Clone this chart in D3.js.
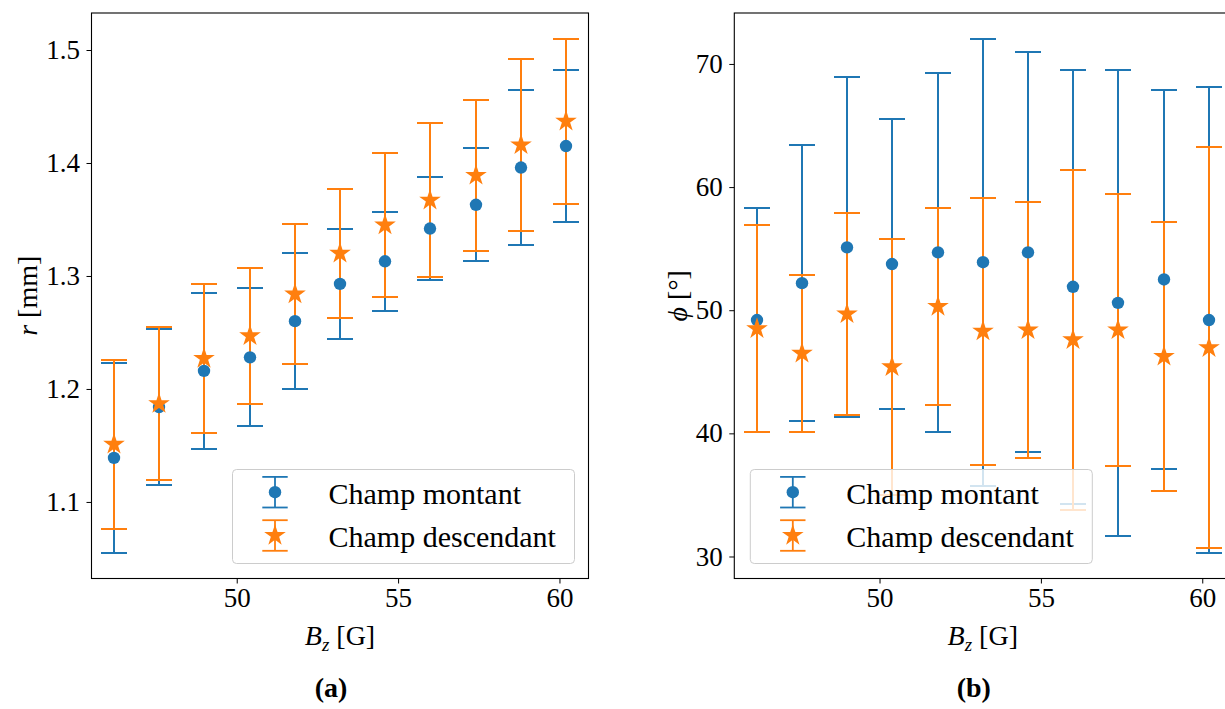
<!DOCTYPE html>
<html>
<head>
<meta charset="utf-8">
<script src="https://cdn.jsdelivr.net/npm/d3@7"></script>
<style>
body { margin: 0; background: #fff; overflow: hidden; }
text { font-family: "Liberation Serif", "DejaVu Serif", serif; fill: #000; }
</style>
</head>
<body>
<svg width="1225" height="709"></svg>
<script>
// values
var bz = [46.2, 47.6, 49.0, 50.4, 51.8, 53.2, 54.6, 56.0, 57.4, 58.8, 60.2];

var rUp = [1.139, 1.184, 1.216, 1.228, 1.260, 1.293, 1.313, 1.342, 1.363, 1.396, 1.415];
var rUpErr = [0.084, 0.069, 0.069, 0.061, 0.060, 0.049, 0.044, 0.046, 0.050, 0.069, 0.067];
var rDown = [1.151, 1.187, 1.227, 1.247, 1.284, 1.320, 1.345, 1.367, 1.389, 1.416, 1.437];
var rDownErr = [0.075, 0.068, 0.066, 0.060, 0.062, 0.057, 0.064, 0.068, 0.067, 0.076, 0.073];

var phiUp = [49.2, 52.2, 55.1, 53.75, 54.7, 53.9, 54.7, 51.9, 50.6, 52.5, 49.2];
var phiUpErr = [9.1, 11.2, 13.8, 11.75, 14.55, 18.15, 16.25, 17.6, 18.9, 15.4, 18.9];
var phiDown = [48.5, 46.5, 49.7, 45.4, 50.3, 48.3, 48.4, 47.6, 48.4, 46.25, 46.95];
var phiDownErr = [8.4, 6.4, 8.2, 10.4, 8.0, 10.85, 10.4, 13.8, 11.05, 10.95, 16.3];

var xTicks = [50, 55, 60];
var rTicks = [1.1, 1.2, 1.3, 1.4, 1.5];
var phiTicks = [30, 40, 50, 60, 70];
var names = ["Champ montant", "Champ descendant"];
var blue = "#1f77b4", orange = "#ff7f0e";

var svg = d3.select("svg");
var top_ = 13, bottom = 578.5, axW = 497;

function padded(lo, hi) {
	var p = (hi - lo) * 0.05;
	return [lo - p, hi + p];
}

function panel(o) {
	var g = svg.append("g");
	var x = d3.scaleLinear()
		.domain(padded(d3.min(bz), d3.max(bz)))
		.range([o.left, o.left + axW]);
	var lows = o.up.map(function(d, i){ return d - o.upErr[i]; })
		.concat(o.down.map(function(d, i){ return d - o.downErr[i]; }));
	var highs = o.up.map(function(d, i){ return d + o.upErr[i]; })
		.concat(o.down.map(function(d, i){ return d + o.downErr[i]; }));
	var y = d3.scaleLinear()
		.domain(padded(d3.min(lows), d3.max(highs)))
		.range([bottom, top_]);

	// error bars, blue first then orange (snapped to pixels so orange fully covers blue)
	[[o.up, o.upErr, blue], [o.down, o.downErr, orange]].forEach(function(s) {
		var eb = g.append("g").attr("stroke", s[2]).attr("stroke-width", 2)
			.attr("shape-rendering", "crispEdges");
		bz.forEach(function(b, i) {
			var cx = Math.round(x(b)),
				y1 = Math.round(y(s[0][i] - s[1][i])),
				y2 = Math.round(y(s[0][i] + s[1][i]));
			eb.append("line").attr("x1", cx).attr("x2", cx).attr("y1", y1).attr("y2", y2);
			eb.append("line").attr("x1", cx - 13).attr("x2", cx + 13).attr("y1", y1).attr("y2", y1);
			eb.append("line").attr("x1", cx - 13).attr("x2", cx + 13).attr("y1", y2).attr("y2", y2);
		});
	});

	g.selectAll(".dot").data(o.up).enter().append("circle")
		.attr("class", "dot")
		.attr("cx", function(d, i){ return Math.round(x(bz[i])); })
		.attr("cy", function(d){ return y(d); })
		.attr("r", 6.2)
		.attr("fill", blue);

	var star = d3.symbol().type(d3.symbolStar).size(145);
	g.selectAll(".star").data(o.down).enter().append("path")
		.attr("class", "star")
		.attr("d", star)
		.attr("transform", function(d, i){ return "translate(" + Math.round(x(bz[i])) + "," + y(d) + ")"; })
		.attr("fill", orange);

	// axes
	var ax = g.append("g")
		.attr("transform", "translate(0," + bottom + ")")
		.call(d3.axisBottom(x).tickValues(xTicks).tickSize(5).tickPadding(4.5).tickFormat(d3.format("d")));
	var ay = g.append("g")
		.attr("transform", "translate(" + o.left + ",0)")
		.call(d3.axisLeft(y).tickValues(o.ticks).tickSize(5).tickPadding(6.5).tickFormat(o.fmt));
	[ax, ay].forEach(function(a) {
		a.select(".domain").remove();
		a.attr("font-family", null).attr("font-size", null);
		a.selectAll("line").attr("stroke", "#000").attr("stroke-width", 1);
		a.selectAll("text").style("font-size", "27px");
	});

	g.append("rect")
		.attr("x", o.left).attr("y", top_)
		.attr("width", axW).attr("height", bottom - top_)
		.attr("fill", "none").attr("stroke", "#000").attr("stroke-width", 1.1);

	// legend
	var lw = 342, lh = 94;
	var lx = o.legendLeft ? o.left + 16 : o.left + axW - 14 - lw;
	var ly = bottom - 15 - lh;
	var lg = g.append("g").attr("transform", "translate(" + lx + "," + ly + ")");
	lg.append("rect").attr("width", lw).attr("height", lh).attr("rx", 4)
		.attr("fill", "#fff").attr("fill-opacity", 0.8)
		.attr("stroke", "#cccccc").attr("stroke-width", 1);
	[[22.7, blue], [66, orange]].forEach(function(r, k) {
		var hx = 42.5, cy = r[0];
		var h = lg.append("g").attr("stroke", r[1]).attr("stroke-width", 1.8);
		h.append("line").attr("x1", hx).attr("x2", hx).attr("y1", cy - 15.3).attr("y2", cy + 15.3);
		h.append("line").attr("x1", hx - 12.7).attr("x2", hx + 12.7).attr("y1", cy - 15.3).attr("y2", cy - 15.3);
		h.append("line").attr("x1", hx - 12.7).attr("x2", hx + 12.7).attr("y1", cy + 15.3).attr("y2", cy + 15.3);
		if (k == 0) lg.append("circle").attr("cx", hx).attr("cy", cy).attr("r", 6.2).attr("fill", r[1]);
		else lg.append("path").attr("d", star).attr("transform", "translate(" + hx + "," + cy + ")").attr("fill", r[1]);
		lg.append("text").attr("x", 96).attr("y", cy + 11.3)
			.style("font-size", "30px").text(names[k]);
	});

	// labels
	var mid = o.left + axW / 2;
	var xl = g.append("text").attr("x", mid).attr("y", 645)
		.attr("text-anchor", "middle").style("font-size", "28px");
	xl.append("tspan").style("font-style", "italic").text("B");
	xl.append("tspan").style("font-style", "italic").style("font-size", "19px").attr("dy", 6).text("z");
	xl.append("tspan").attr("dy", -6).text(" [G]");

	var yl = g.append("text")
		.attr("transform", "translate(" + o.ylabX + "," + ((top_ + bottom) / 2) + ") rotate(-90)")
		.attr("text-anchor", "middle").style("font-size", "28px");
	yl.append("tspan").style("font-style", "italic").text(o.ysym);
	yl.append("tspan").text(o.yunit);

	g.append("text").attr("x", mid - 9).attr("y", 697)
		.attr("text-anchor", "middle").style("font-size", "28px").style("font-weight", "bold")
		.text(o.caption);
}

panel({left: 91.5, up: rUp, upErr: rUpErr, down: rDown, downErr: rDownErr,
	ticks: rTicks, fmt: d3.format(".1f"), legendLeft: false,
	ysym: "r", yunit: " [mm]", ylabX: 37, caption: "(a)"});
panel({left: 734.3, up: phiUp, upErr: phiUpErr, down: phiDown, downErr: phiDownErr,
	ticks: phiTicks, fmt: d3.format("d"), legendLeft: true,
	ysym: "\u03D5", yunit: " [\u00B0]", ylabX: 687, caption: "(b)"});
</script>
</body>
</html>
